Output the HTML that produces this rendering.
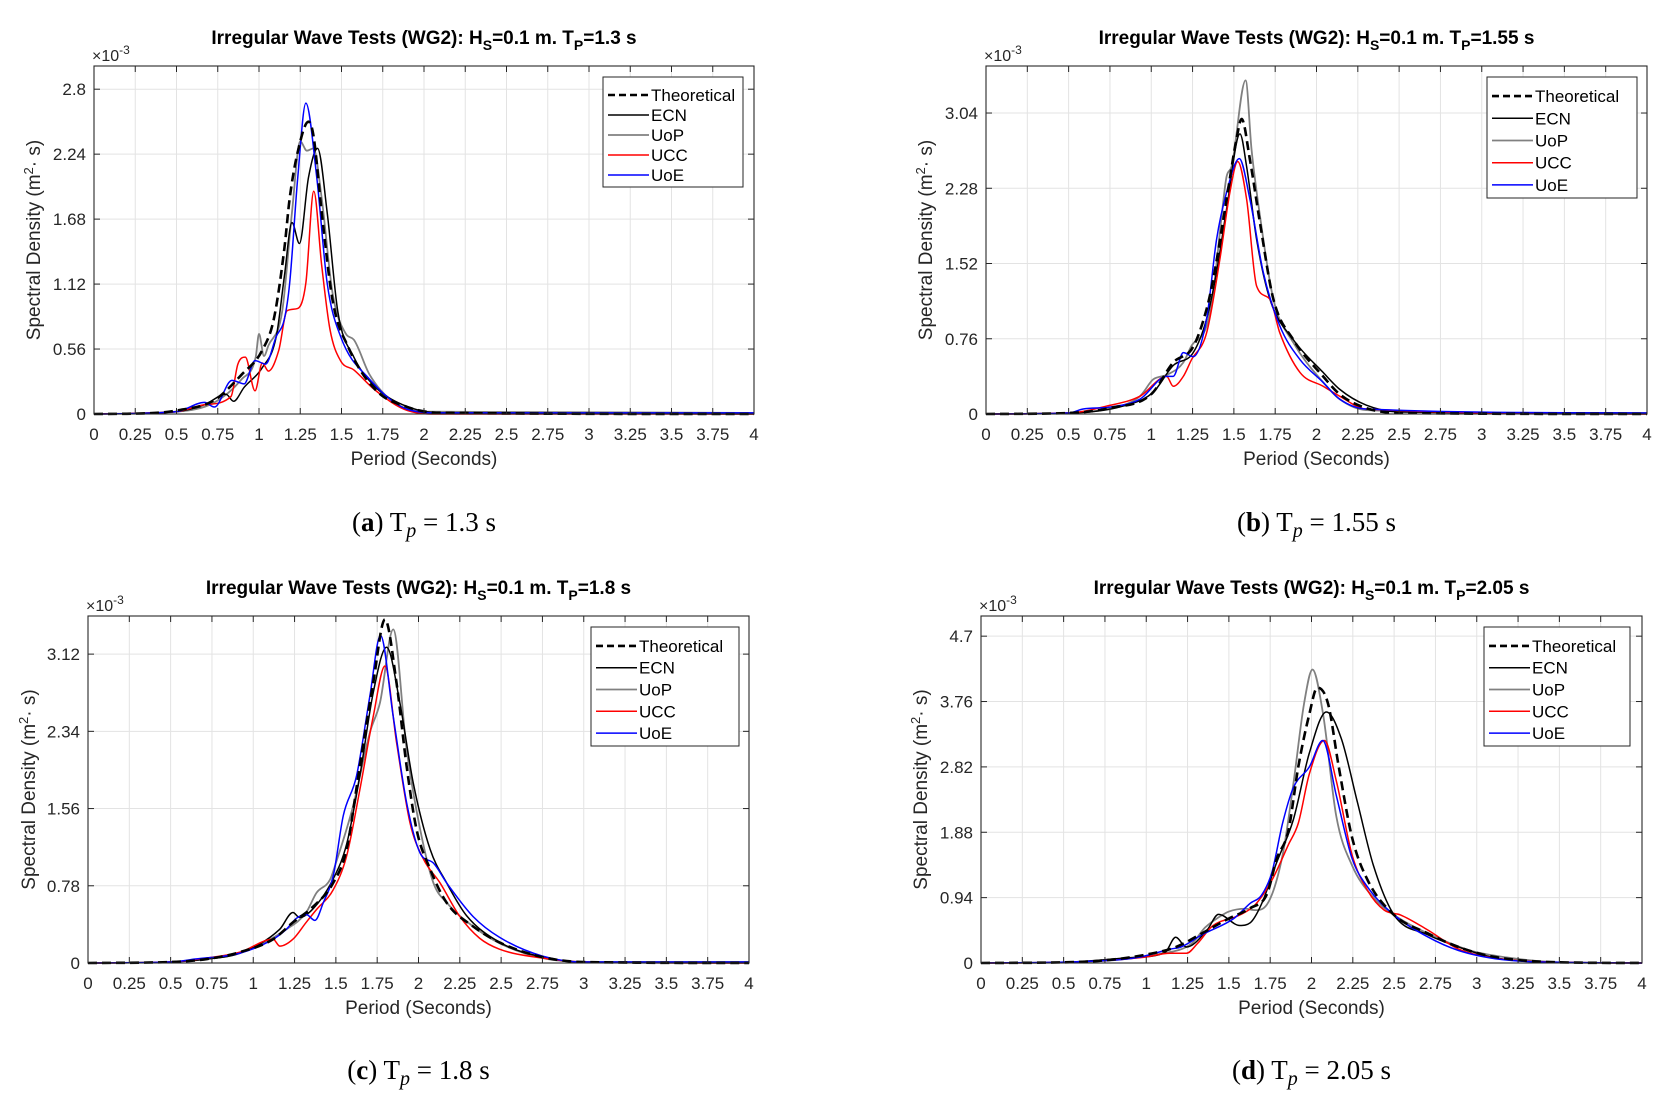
<!DOCTYPE html>
<html><head><meta charset="utf-8"><style>
html,body{margin:0;padding:0;background:#fff;}
svg{display:block;font-family:"Liberation Sans",sans-serif;}
</style></head>
<body>
<svg id="fig" width="1677" height="1110" viewBox="0 0 1677 1110"></svg>
<script>
// ---------- data (period [s], spectral density [x1e-3 m^2 s]) ----------
const seriesNames = ["Theoretical","ECN","UoP","UCC","UoE"];
// Panel a (Tp = 1.3 s)
const aTheoP=[0,0.3,0.5,0.73,0.895,1.02,1.09,1.154,1.186,1.235,1.30,1.33,1.38,1.446,1.54,1.705,1.9,2.1,4];
const aTheoV=[0,0.005,0.03,0.12,0.34,0.55,0.82,1.43,1.86,2.26,2.52,2.4,1.74,0.98,0.58,0.21,0.06,0.01,0];
const aEcnP=[0,0.5,0.67,0.8,0.846,0.91,1.02,1.105,1.154,1.2,1.245,1.3,1.355,1.413,1.478,1.575,1.7,1.87,2.1,4];
const aEcnV=[0,0.02,0.08,0.17,0.11,0.23,0.4,0.67,1.19,1.65,1.47,2.04,2.29,1.74,0.88,0.49,0.24,0.08,0.01,0];
const aUopP=[0,0.5,0.73,0.895,0.98,1.0,1.03,1.057,1.14,1.2,1.25,1.29,1.33,1.38,1.446,1.527,1.575,1.67,1.8,2.0,4];
const aUopV=[0,0.02,0.1,0.3,0.49,0.69,0.5,0.59,0.88,1.74,2.35,2.27,2.29,1.86,1.04,0.69,0.64,0.34,0.12,0.02,0.01];
const aUccP=[0,0.5,0.67,0.83,0.872,0.917,0.976,1.02,1.057,1.12,1.17,1.235,1.284,1.332,1.38,1.43,1.494,1.575,1.7,1.9,2.1,4];
const aUccV=[0,0.02,0.08,0.15,0.43,0.49,0.2,0.44,0.37,0.55,0.89,0.91,1.13,1.92,1.28,0.73,0.46,0.38,0.21,0.03,0,0];
const aUoeP=[0,0.5,0.67,0.73,0.836,0.91,0.976,1.04,1.105,1.154,1.186,1.235,1.284,1.35,1.413,1.494,1.67,1.9,2.1,4];
const aUoeV=[0,0.02,0.1,0.06,0.29,0.26,0.46,0.43,0.67,0.82,1.13,2.04,2.68,2.04,1.13,0.67,0.3,0.04,0.01,0.01];
// Panel b (Tp = 1.55 s)
const bTheoP=[0,0.5,0.75,1.0,1.133,1.254,1.335,1.375,1.456,1.516,1.547,1.597,1.658,1.739,1.86,2.04,2.14,2.3,2.5,4];
const bTheoV=[0,0.01,0.06,0.2,0.52,0.68,1.06,1.36,2.17,2.78,2.98,2.57,1.93,1.16,0.75,0.38,0.2,0.06,0.01,0];
const bEcnP=[0,0.5,0.83,1.012,1.133,1.254,1.335,1.395,1.456,1.537,1.577,1.638,1.718,1.86,2.04,2.14,2.3,2.5,4];
const bEcnV=[0,0.01,0.08,0.22,0.49,0.62,0.96,1.43,2.07,2.83,2.5,1.76,1.16,0.75,0.42,0.25,0.09,0.02,0.01];
const bUopP=[0,0.5,0.73,0.932,1.0,1.012,1.1,1.194,1.244,1.335,1.375,1.426,1.456,1.486,1.571,1.607,1.658,1.739,1.86,2.04,2.14,2.3,4];
const bUopV=[0,0.01,0.05,0.18,0.33,0.35,0.4,0.52,0.69,0.89,1.23,2.0,2.4,2.5,3.37,2.67,2.0,1.16,0.72,0.32,0.15,0.04,0];
const bUccP=[0,0.5,0.73,0.932,1.093,1.133,1.194,1.244,1.335,1.415,1.476,1.523,1.577,1.638,1.718,1.778,1.9,2.04,2.14,2.3,4];
const bUccV=[0,0.01,0.08,0.18,0.38,0.28,0.38,0.55,0.82,1.56,2.24,2.55,2.17,1.29,1.16,0.82,0.42,0.28,0.18,0.05,0];
const bUoeP=[0,0.5,0.588,0.75,0.932,1.093,1.133,1.194,1.254,1.335,1.395,1.456,1.533,1.597,1.678,1.778,1.9,2.04,2.14,2.3,4];
const bUoeV=[0,0.01,0.05,0.07,0.15,0.38,0.38,0.62,0.58,0.96,1.76,2.24,2.58,2.17,1.43,0.89,0.55,0.32,0.15,0.05,0.01];
// Panel c (Tp = 1.8 s)
const cTheoP=[0,0.5,0.72,0.92,1.12,1.24,1.363,1.484,1.565,1.645,1.726,1.797,1.867,1.928,1.988,2.07,2.17,2.33,2.5,2.75,3.0,4];
const cTheoV=[0,0.01,0.04,0.11,0.24,0.41,0.57,0.81,1.15,1.99,2.83,3.47,2.83,1.99,1.35,0.95,0.61,0.37,0.2,0.06,0.01,0];
const cEcnP=[0,0.5,0.72,0.92,1.16,1.24,1.28,1.363,1.484,1.565,1.645,1.726,1.807,1.887,1.968,2.07,2.17,2.29,2.49,2.75,3.0,4];
const cEcnV=[0,0.01,0.04,0.1,0.34,0.51,0.46,0.55,0.85,1.2,1.89,2.73,3.19,2.63,1.82,1.15,0.81,0.48,0.21,0.06,0.01,0.01];
const cUopP=[0,0.5,0.72,0.92,1.2,1.32,1.383,1.464,1.504,1.605,1.706,1.767,1.847,1.928,2.01,2.09,2.17,2.33,2.49,2.75,3.0,4];
const cUopV=[0,0.01,0.04,0.1,0.34,0.51,0.71,0.84,1.03,1.59,2.33,2.63,3.37,2.16,1.35,0.81,0.61,0.37,0.2,0.05,0.01,0];
const cUccP=[0,0.5,0.72,0.92,1.12,1.161,1.24,1.32,1.383,1.484,1.565,1.645,1.726,1.797,1.867,1.948,2.03,2.13,2.25,2.37,2.49,2.75,3.0,4];
const cUccV=[0,0.01,0.05,0.11,0.24,0.17,0.24,0.41,0.54,0.74,1.08,1.75,2.49,3.0,2.23,1.42,1.05,0.81,0.47,0.25,0.14,0.05,0.01,0];
const cUoeP=[0,0.5,0.65,0.92,1.12,1.2,1.26,1.32,1.373,1.424,1.484,1.545,1.625,1.706,1.77,1.847,1.928,2.01,2.09,2.17,2.33,2.49,2.75,3.0,4];
const cUoeV=[0,0.01,0.04,0.1,0.24,0.34,0.45,0.49,0.43,0.61,0.88,1.49,1.89,2.7,3.31,2.49,1.62,1.11,1.01,0.81,0.47,0.26,0.07,0.01,0.01];
// Panel d (Tp = 2.05 s)
const dTheoP=[0,0.5,0.758,1.02,1.18,1.34,1.5,1.63,1.73,1.79,1.86,1.92,1.987,2.035,2.1,2.165,2.246,2.34,2.5,2.7,2.89,3.08,3.5,4];
const dTheoV=[0,0.01,0.04,0.13,0.23,0.43,0.64,0.79,0.99,1.5,1.9,2.82,3.58,3.96,3.73,2.82,1.8,1.19,0.69,0.43,0.23,0.1,0.01,0];
const dEcnP=[0,0.5,0.92,1.113,1.178,1.243,1.37,1.437,1.566,1.63,1.696,1.79,1.89,1.987,2.09,2.18,2.278,2.375,2.5,2.7,2.89,3.1,3.5,4];
const dEcnV=[0,0.01,0.08,0.15,0.37,0.23,0.48,0.7,0.54,0.58,0.84,1.45,2.06,3.02,3.61,3.23,2.31,1.4,0.69,0.41,0.23,0.08,0.01,0];
const dUopP=[0,0.5,1.08,1.275,1.356,1.44,1.5,1.6,1.66,1.73,1.825,1.89,1.955,2.006,2.07,2.15,2.246,2.375,2.5,2.7,2.96,3.18,3.5,4];
const dUopV=[0,0.01,0.13,0.28,0.51,0.66,0.74,0.78,0.76,0.84,1.55,2.57,3.73,4.22,3.58,2.11,1.4,0.94,0.69,0.43,0.18,0.08,0.01,0];
const dUccP=[0,0.5,0.98,1.145,1.243,1.31,1.4,1.566,1.66,1.76,1.86,1.92,1.987,2.078,2.15,2.246,2.34,2.44,2.54,2.7,2.89,3.08,3.5,4];
const dUccV=[0,0.01,0.08,0.14,0.14,0.28,0.53,0.69,0.84,1.19,1.7,2.01,2.72,3.2,2.62,1.55,1.04,0.76,0.69,0.48,0.2,0.08,0.01,0];
const dUoeP=[0,0.6,0.95,1.145,1.21,1.34,1.53,1.63,1.696,1.76,1.825,1.89,1.987,2.068,2.15,2.246,2.34,2.5,2.7,2.89,3.15,3.5,4];
const dUoeV=[0,0.02,0.08,0.2,0.23,0.41,0.64,0.86,0.97,1.3,2.01,2.52,2.82,3.2,2.41,1.5,1.09,0.69,0.38,0.18,0.05,0.01,0];
// axis ticks
const xTicks=[0,0.25,0.5,0.75,1,1.25,1.5,1.75,2,2.25,2.5,2.75,3,3.25,3.5,3.75,4];
const xTickLabels=["0","0.25","0.5","0.75","1","1.25","1.5","1.75","2","2.25","2.5","2.75","3","3.25","3.5","3.75","4"];
const aYTicks=[0,0.56,1.12,1.68,2.24,2.8];
const bYTicks=[0,0.76,1.52,2.28,3.04];
const cYTicks=[0,0.78,1.56,2.34,3.12];
const dYTicks=[0,0.94,1.88,2.82,3.76,4.7];

const NS="http://www.w3.org/2000/svg";
const svg=document.getElementById('fig');
function mk(tag,attrs,parent){const e=document.createElementNS(NS,tag);for(const k in attrs)e.setAttribute(k,attrs[k]);(parent||svg).appendChild(e);return e;}
const styles=[
 {c:"#000",w:2.6,d:"9,5"},{c:"#000",w:1.5,d:""},{c:"#808080",w:1.8,d:""},{c:"#ff0000",w:1.5,d:""},{c:"#0000ff",w:1.5,d:""}];

function monotonePath(xs,ys){
 const n=xs.length;const d=[],m=[];
 for(let i=0;i<n-1;i++){d.push((ys[i+1]-ys[i])/(xs[i+1]-xs[i]));}
 m[0]=d[0];m[n-1]=d[n-2];
 for(let i=1;i<n-1;i++){m[i]=(d[i-1]*d[i]<=0)?0:(d[i-1]+d[i])/2;}
 for(let i=0;i<n-1;i++){if(d[i]===0){m[i]=0;m[i+1]=0;continue;}const a=m[i]/d[i],b=m[i+1]/d[i];const s=a*a+b*b;if(s>9){const t=3/Math.sqrt(s);m[i]=t*a*d[i];m[i+1]=t*b*d[i];}}
 let p="M"+xs[0].toFixed(2)+","+ys[0].toFixed(2);
 for(let i=0;i<n-1;i++){const h=(xs[i+1]-xs[i])/3;
  p+=" C"+(xs[i]+h).toFixed(2)+","+(ys[i]+m[i]*h).toFixed(2)+" "+(xs[i+1]-h).toFixed(2)+","+(ys[i+1]-m[i+1]*h).toFixed(2)+" "+xs[i+1].toFixed(2)+","+ys[i+1].toFixed(2);}
 return p;}

function panel(cfg){
 const g=mk('g',{});
 
 
 const L=cfg.x0,R=cfg.x1,T=cfg.top,B=cfg.bottom;
 const sx=v=>L+(R-L)*v/4, sy=v=>B-(B-T)*v/cfg.ymax;
 // grid
 xTicks.forEach(t=>{const l=mk('line',{x1:sx(t),x2:sx(t),y1:T,y2:B,stroke:"#e3e3e3","stroke-width":1},g);
  
  });
 cfg.yt.forEach(t=>{const l=mk('line',{x1:L,x2:R,y1:sy(t),y2:sy(t),stroke:"#e3e3e3","stroke-width":1},g);
  
  });
 // series
 const clip=mk('clipPath',{id:cfg.id+"-clip"},g);mk('rect',{x:L,y:T,width:R-L,height:B-T+2},clip);
 const order=[0,1,2,3,4];
 const ser=cfg.series;
 [2,1,3,4,0].forEach(i=>{const s=ser[i],st=styles[i];
  const path=mk('path',{d:monotonePath(s[0].map(sx),s[1].map(sy)),fill:"none",stroke:st.c,"stroke-width":st.w,"stroke-dasharray":st.d,"clip-path":"url(#"+cfg.id+"-clip)","stroke-linejoin":"round"},g);
  
  });
 // box
 const box=mk('rect',{x:L,y:T,width:R-L,height:B-T,fill:"none",stroke:"#262626","stroke-width":1.1},g);
 
 
 // ticks & labels
 xTicks.forEach((t,i)=>{mk('line',{x1:sx(t),x2:sx(t),y1:B,y2:B-6,stroke:"#262626"},g);mk('line',{x1:sx(t),x2:sx(t),y1:T,y2:T+6,stroke:"#262626"},g);
  const tx=mk('text',{x:sx(t),y:B+26,"text-anchor":"middle","font-size":17,fill:"#262626"},g);tx.textContent=xTickLabels[i];
  
  });
 cfg.yt.forEach(t=>{mk('line',{x1:L,x2:L+6,y1:sy(t),y2:sy(t),stroke:"#262626"},g);mk('line',{x1:R,x2:R-6,y1:sy(t),y2:sy(t),stroke:"#262626"},g);
  const tx=mk('text',{x:L-8,y:sy(t)+6,"text-anchor":"end","font-size":17,fill:"#262626"},g);tx.textContent=String(t);
  
  });
 // exponent
 const ex=mk('text',{x:L-2,y:T-5,"font-size":16,fill:"#262626"},g);ex.innerHTML='×10<tspan dy="-7" font-size="12">-3</tspan>';
 
 
 // title
 const ti=mk('text',{x:(L+R)/2,y:T-22,"text-anchor":"middle","font-size":19,"font-weight":"bold",fill:"#000"},g);
 ti.innerHTML='Irregular Wave Tests (WG2): H<tspan dy="6" font-size="14">S</tspan><tspan dy="-6">=0.1 m. T</tspan><tspan dy="6" font-size="14">P</tspan><tspan dy="-6">='+cfg.tp+' s</tspan>';
 
 
 // axis labels
 const xl=mk('text',{x:(L+R)/2,y:B+51,"text-anchor":"middle","font-size":19,fill:"#262626"},g);xl.textContent="Period (Seconds)";
 
 
 const yc=(T+B)/2, yx=cfg.ylx;
 const yl=mk('text',{x:yx,y:yc,"text-anchor":"middle","font-size":19,fill:"#262626",transform:"rotate(-90 "+yx+" "+yc+")"},g);
 yl.innerHTML='Spectral Density (m<tspan dy="-7" font-size="13">2</tspan><tspan dy="7">· s)</tspan>';
 
 
 // legend
 const lg=cfg.leg;
 const lgG=mk('g',{},g);
 
 
 mk('rect',{x:lg[0],y:lg[1],width:lg[2],height:lg[3],fill:"#fff",stroke:"#262626","stroke-width":1},lgG);
 const step=(lg[3]-10)/5;
 seriesNames.forEach((n,i)=>{const yy=lg[1]+8+step*(i+0.5);
  const st=styles[i];
  mk('line',{x1:lg[0]+5,x2:lg[0]+46,y1:yy,y2:yy,stroke:st.c,"stroke-width":st.w,"stroke-dasharray":st.d?"7,4":""},lgG);
  const t=mk('text',{x:lg[0]+48,y:yy+6,"font-size":17,fill:"#000"},lgG);t.textContent=n;
  
  });
 // caption
 const cap=mk('text',{x:(L+R)/2,y:cfg.capY,"text-anchor":"middle","font-size":27,"font-family":"Liberation Serif, serif",fill:"#000"},svg);
 cap.innerHTML='(<tspan font-weight="bold">'+cfg.letter+'</tspan>) T<tspan dy="6" font-style="italic" font-size="20">p</tspan><tspan dy="-6"> = '+cfg.tp+' s</tspan>';
 
 
}
panel({id:"panel-a",letter:"a",tp:"1.3",x0:94,x1:754,top:66,bottom:414,ymax:3.0,yt:aYTicks,ylx:40,capY:531,leg:[603,77,140,110],
 series:[[aTheoP,aTheoV],[aEcnP,aEcnV],[aUopP,aUopV],[aUccP,aUccV],[aUoeP,aUoeV]]});
panel({id:"panel-b",letter:"b",tp:"1.55",x0:986,x1:1647,top:66,bottom:414,ymax:3.515,yt:bYTicks,ylx:932,capY:531,leg:[1487,77,150,121],
 series:[[bTheoP,bTheoV],[bEcnP,bEcnV],[bUopP,bUopV],[bUccP,bUccV],[bUoeP,bUoeV]]});
panel({id:"panel-c",letter:"c",tp:"1.8",x0:88,x1:749,top:616,bottom:963,ymax:3.505,yt:cYTicks,ylx:35,capY:1079,leg:[591,627,148,119],
 series:[[cTheoP,cTheoV],[cEcnP,cEcnV],[cUopP,cUopV],[cUccP,cUccV],[cUoeP,cUoeV]]});
panel({id:"panel-d",letter:"d",tp:"2.05",x0:981,x1:1642,top:616,bottom:963,ymax:4.99,yt:dYTicks,ylx:927,capY:1079,leg:[1484,627,146,119],
 series:[[dTheoP,dTheoV],[dEcnP,dEcnV],[dUopP,dUopV],[dUccP,dUccV],[dUoeP,dUoeV]]});
</script>
</body></html>
